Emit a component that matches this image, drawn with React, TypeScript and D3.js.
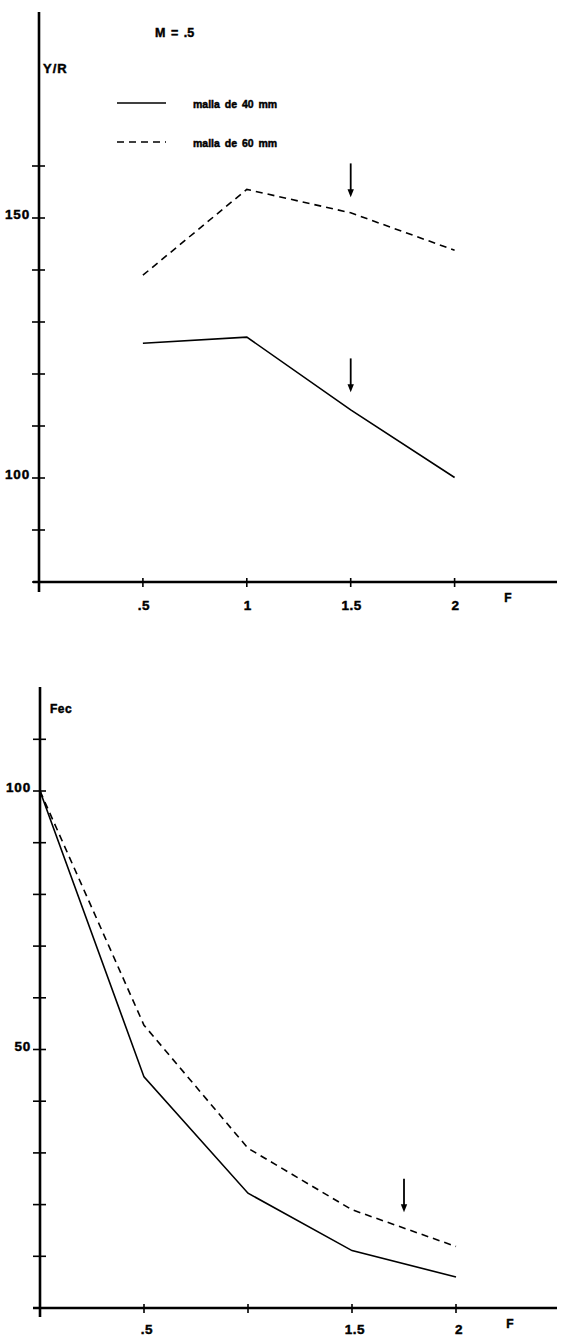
import React from "react";
import * as d3 from "d3";

// ---- data ----
const F = [0.5, 1, 1.5, 2];
const yr40 = [125.9, 127.1, 113.1, 100.1];
const yr60 = [139.0, 155.5, 151.0, 143.8];

const Fbot = [0, 0.5, 1, 1.5, 2];
const fec40 = [100, 44.7, 22.2, 11.1, 6.0];
const fec60 = [100, 54.7, 30.9, 19.0, 11.9];

const topYTicks = [80, 90, 100, 110, 120, 130, 140, 150, 160];
const topYLabels = [100, 150];
const topXTicks = [0.5, 1, 1.5, 2];
const topXLabels = [".5", "1", "1.5", "2"];

const botYTicks = [0, 10, 20, 30, 40, 50, 60, 70, 80, 90, 100, 110];
const botYLabels = [50, 100];
const botXTicks = [0.5, 1, 1.5, 2];
const botXLabelVals = [0.5, 1.5, 2];
const botXLabels = [".5", "1.5", "2"];

const topArrows = [
  { f: 1.5, from: 160.5, to: 154 },
  { f: 1.5, from: 123, to: 116.5 },
];
const botArrows = [{ f: 1.75, from: 25, to: 18.5 }];

const FONT = "'Liberation Sans', Arial, sans-serif";
const DASH = "7 5";

function Arrow({ x, y1, y2 }: { x: number; y1: number; y2: number }) {
  return (
    <g>
      <line x1={x} x2={x} y1={y1} y2={y2 - 5} stroke="#000" strokeWidth={1.8} />
      <path d={`M${x - 3.2},${y2 - 8} L${x + 3.2},${y2 - 8} L${x},${y2} Z`} fill="#000" />
    </g>
  );
}

export default function App() {
  // top chart scales
  const xT = d3.scaleLinear().domain([0, 2.5]).range([39, 558.5]);
  const yT = d3.scaleLinear().domain([80, 190]).range([582, 10]);
  // bottom chart scales
  const xB = d3.scaleLinear().domain([0, 2.5]).range([40, 560]);
  const yB = d3.scaleLinear().domain([0, 120]).range([1308, 687.6]);

  const lineT = d3
    .line<[number, number]>()
    .x((d) => xT(d[0]))
    .y((d) => yT(d[1]));
  const lineB = d3
    .line<[number, number]>()
    .x((d) => xB(d[0]))
    .y((d) => yB(d[1]));

  const t40 = lineT(F.map((f, i) => [f, yr40[i]]) as [number, number][]) || "";
  const t60 = lineT(F.map((f, i) => [f, yr60[i]]) as [number, number][]) || "";
  const b40 = lineB(Fbot.map((f, i) => [f, fec40[i]]) as [number, number][]) || "";
  const b60 = lineB(Fbot.map((f, i) => [f, fec60[i]]) as [number, number][]) || "";

  const labelStyle: React.CSSProperties = {
    fontFamily: FONT,
    fontWeight: "bold",
    stroke: "#000",
    strokeWidth: 0.45,
  };

  return (
    <svg
      width={565}
      height={1340}
      style={{ position: "absolute", left: 0, top: 0, background: "#fff" }}
    >
      <rect x={0} y={0} width={565} height={1340} fill="#fff" />

      {/* ===== TOP CHART ===== */}
      <line x1={xT(0)} x2={xT(0)} y1={592} y2={12} stroke="#000" strokeWidth={2.6} />
      <line x1={33} x2={557} y1={yT(80)} y2={yT(80)} stroke="#000" strokeWidth={2.6} />
      {topYTicks.map((v) => (
        <line key={"tyt" + v} x1={32} x2={45} y1={yT(v)} y2={yT(v)} stroke="#000" strokeWidth={1.6} />
      ))}
      {topYLabels.map((v) => (
        <text
          key={"tyl" + v}
          x={30}
          y={yT(v) + 1}
          textAnchor="end"
          fontSize={13.5}
          letterSpacing={0.8}
          style={labelStyle}
        >
          {v}
        </text>
      ))}
      {topXTicks.map((v) => (
        <line key={"txt" + v} x1={xT(v)} x2={xT(v)} y1={578} y2={587} stroke="#000" strokeWidth={1.6} />
      ))}
      {topXLabels.map((s, i) => (
        <text
          key={"txl" + s}
          x={xT(topXTicks[i]) + 1}
          y={610}
          textAnchor="middle"
          fontSize={13.5}
          letterSpacing={0.5}
          style={labelStyle}
        >
          {s}
        </text>
      ))}
      <text x={508} y={602} textAnchor="middle" fontSize={12} style={labelStyle}>
        F
      </text>
      <text x={43} y={73} fontSize={13} letterSpacing={1} style={labelStyle}>
        Y/R
      </text>
      <text x={155} y={37} fontSize={12.5} wordSpacing={2} style={labelStyle}>
        M = .5
      </text>

      {/* legend */}
      <line x1={117} x2={166} y1={103} y2={103} stroke="#000" strokeWidth={1.6} />
      <line x1={117} x2={166} y1={142} y2={142} stroke="#000" strokeWidth={1.6} strokeDasharray={DASH} />
      <text x={193} y={108} fontSize={10.5} wordSpacing={2} style={labelStyle}>
        malla de 40 mm
      </text>
      <text x={193} y={147} fontSize={10.5} wordSpacing={2} style={labelStyle}>
        malla de 60 mm
      </text>

      {/* lines */}
      <path d={t40} fill="none" stroke="#000" strokeWidth={1.6} />
      <path d={t60} fill="none" stroke="#000" strokeWidth={1.6} strokeDasharray={DASH} />
      {topArrows.map((a, i) => (
        <Arrow key={"ta" + i} x={xT(a.f)} y1={yT(a.from)} y2={yT(a.to)} />
      ))}

      {/* ===== BOTTOM CHART ===== */}
      <line x1={xB(0)} x2={xB(0)} y1={1317} y2={687} stroke="#000" strokeWidth={2.6} />
      <line x1={33} x2={557} y1={yB(0)} y2={yB(0)} stroke="#000" strokeWidth={2.6} />
      {botYTicks.map((v) => (
        <line key={"byt" + v} x1={33} x2={46} y1={yB(v)} y2={yB(v)} stroke="#000" strokeWidth={1.6} />
      ))}
      {botYLabels.map((v) => (
        <text
          key={"byl" + v}
          x={31}
          y={yB(v) + 1}
          textAnchor="end"
          fontSize={13.5}
          letterSpacing={0.8}
          style={labelStyle}
        >
          {v}
        </text>
      ))}
      {botXTicks.map((v) => (
        <line key={"bxt" + v} x1={xB(v)} x2={xB(v)} y1={1304} y2={1313} stroke="#000" strokeWidth={1.6} />
      ))}
      {botXLabels.map((s, i) => (
        <text
          key={"bxl" + s}
          x={xB(botXLabelVals[i]) + 3}
          y={1334}
          textAnchor="middle"
          fontSize={13.5}
          letterSpacing={0.5}
          style={labelStyle}
        >
          {s}
        </text>
      ))}
      <text x={510} y={1328} textAnchor="middle" fontSize={12} style={labelStyle}>
        F
      </text>
      <text x={50} y={713} fontSize={12} letterSpacing={0.5} style={labelStyle}>
        Fec
      </text>

      <path d={b40} fill="none" stroke="#000" strokeWidth={1.6} />
      <path d={b60} fill="none" stroke="#000" strokeWidth={1.6} strokeDasharray={DASH} />
      {botArrows.map((a, i) => (
        <Arrow key={"ba" + i} x={xB(a.f)} y1={yB(a.from)} y2={yB(a.to)} />
      ))}
    </svg>
  );
}
